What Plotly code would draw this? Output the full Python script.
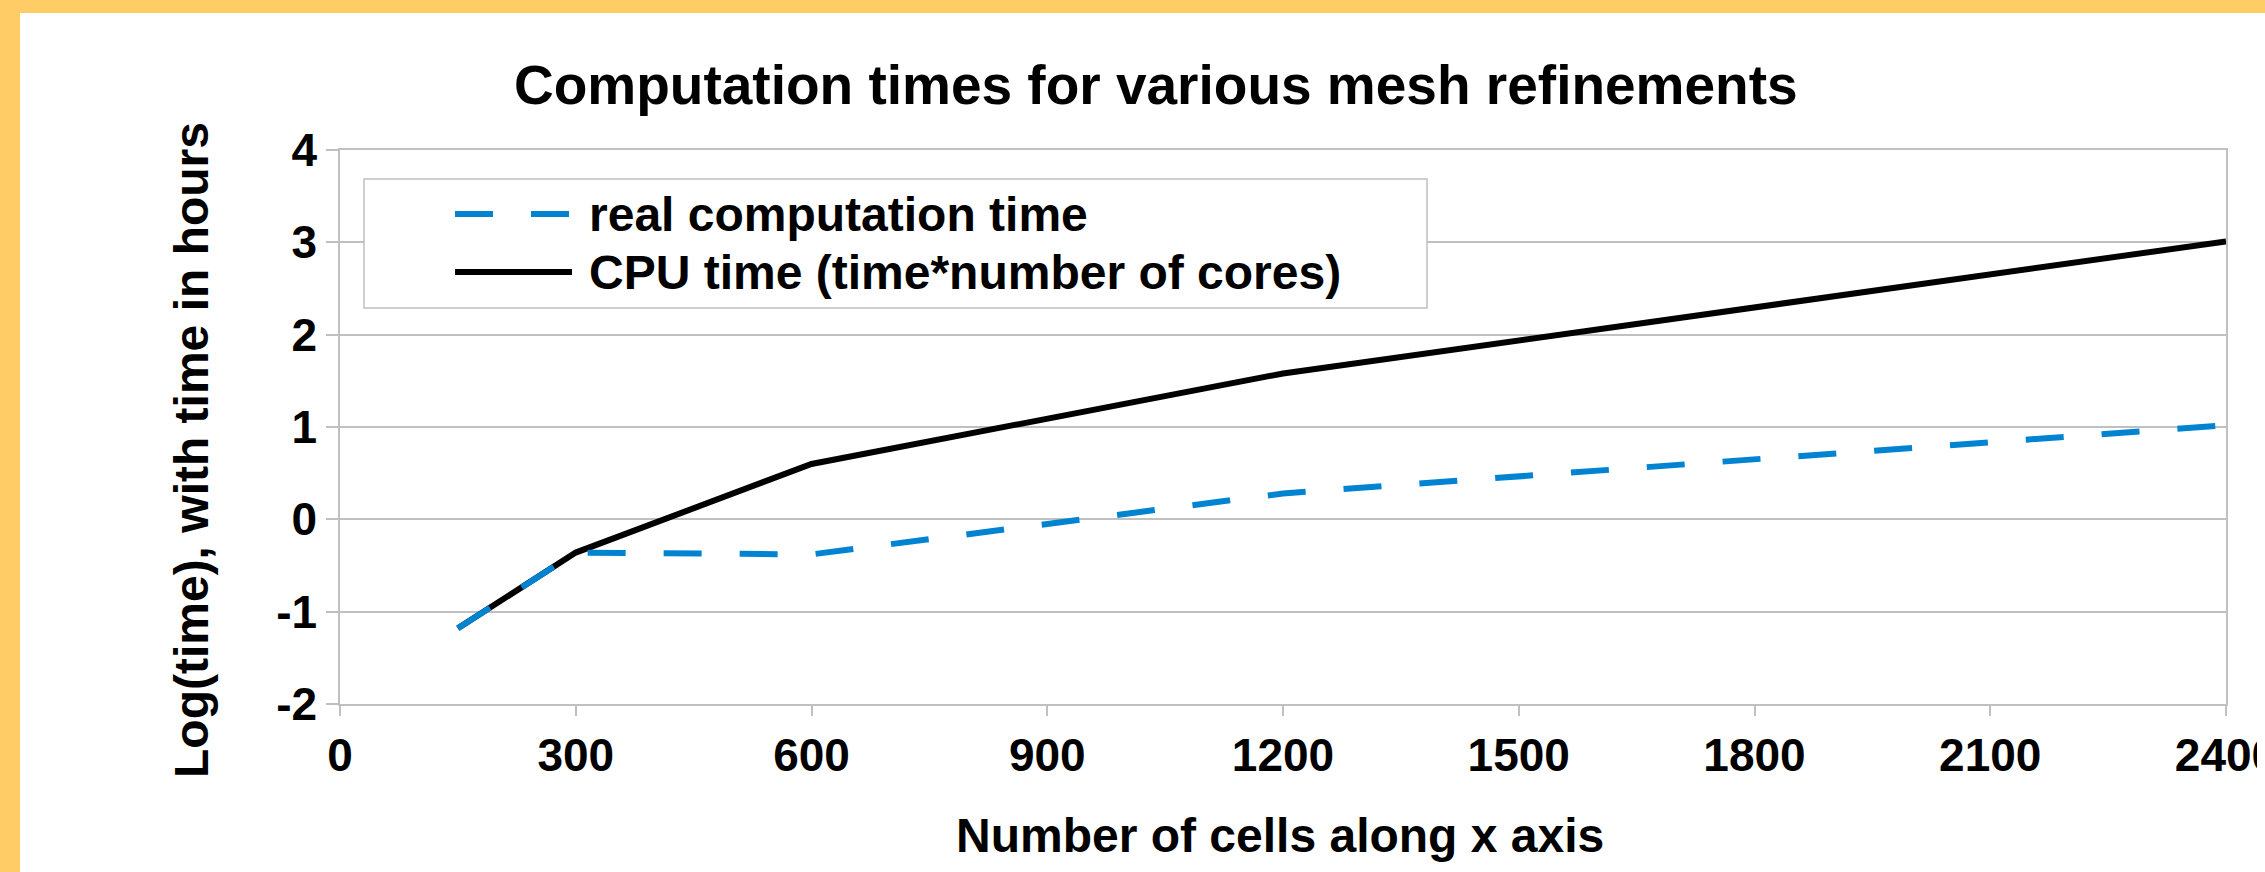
import plotly.graph_objects as go

# ---- data ----
cells = [150, 300, 600, 1200, 2400]
real_time_log = [-1.18, -0.36, -0.38, 0.28, 1.02]
cpu_time_log = [-1.18, -0.36, 0.60, 1.58, 3.01]
series_names = ["real computation time", "CPU time (time*number of cores)"]
x_ticks = [0, 300, 600, 900, 1200, 1500, 1800, 2100, 2400]
y_ticks = [-2, -1, 0, 1, 2, 3, 4]
y_tick_labels = ["-2", "-1", "0", "1", "2", "3", "4"]

SW, SH = 2265, 872          # browser window
OFF = 8                     # default page margin of the html body
W, H = SW - 2 * OFF, SH - 2 * OFF   # figure fits the window without scrollbars
# plot area in window pixels: x 340..2226, y 150..704
ML, MR, MT, MB = 340 - OFF, SW - 2226 - OFF, 150 - OFF, SH - 704 - OFF
PW, PH = W - ML - MR, H - MT - MB

def px(x):  # window pixel -> paper fraction
    return (x - OFF - ML) / PW

def py(y):
    return (H - MB - (y - OFF)) / PH

BLUE = "#0084D1"
BLACK = "#000000"
GRID = "#c0c0c0"
ORANGE = "#FFCC66"
FONT = "Liberation Sans"

def bold(size):
    return dict(family=FONT, size=size, color="black", weight="bold")

fig = go.Figure()
fig.add_trace(go.Scatter(x=cells, y=cpu_time_log, mode="lines", name=series_names[1],
                         line=dict(color=BLACK, width=6), showlegend=False))
fig.add_trace(go.Scatter(x=cells, y=real_time_log, mode="lines", name=series_names[0],
                         line=dict(color=BLUE, width=6, dash="38px,38px"), showlegend=False))

shapes = []
annotations = []
# orange frame strips (part inside the figure)
shapes.append(dict(type="rect", xref="paper", yref="paper", x0=px(0), x1=px(SW + 20), y0=py(0), y1=py(13),
                   fillcolor=ORANGE, line=dict(width=0), layer="below"))
shapes.append(dict(type="rect", xref="paper", yref="paper", x0=px(0), x1=px(20), y0=py(0), y1=py(SH + 20),
                   fillcolor=ORANGE, line=dict(width=0), layer="below"))
# legend box
shapes.append(dict(type="rect", xref="paper", yref="paper", x0=px(364), x1=px(1427), y0=py(179), y1=py(308),
                   fillcolor="white", line=dict(color=GRID, width=1.5)))
rows = [(214, BLUE, "38px,38px", 6), (272, BLACK, "solid", 6)]
for (ry, col, dash, w), name in zip(rows, series_names):
    shapes.append(dict(type="line", xref="paper", yref="paper", x0=px(455), x1=px(572), y0=py(ry), y1=py(ry),
                       line=dict(color=col, width=w, dash=dash)))
    annotations.append(dict(xref="paper", yref="paper", x=px(587), y=py(ry), text=name, showarrow=False,
                            xanchor="left", yanchor="middle", font=bold(48)))
# axis titles
annotations.append(dict(xref="paper", yref="paper", x=px(1280), y=py(835), text="Number of cells along x axis",
                        showarrow=False, xanchor="center", yanchor="middle", font=bold(48)))
annotations.append(dict(xref="paper", yref="paper", x=px(192), y=py(450), text="Log(time), with time in hours",
                        showarrow=False, xanchor="center", yanchor="middle", textangle=-90, font=bold(48)))
# title
annotations.append(dict(xref="paper", yref="paper", x=px(1156), y=py(85),
                        text="Computation times for various mesh refinements",
                        showarrow=False, xanchor="center", yanchor="middle", font=bold(55)))

fig.update_layout(
    width=W, height=H,
    margin=dict(l=ML, r=MR, t=MT, b=MB, autoexpand=False),
    paper_bgcolor="white", plot_bgcolor="white",
    shapes=shapes, annotations=annotations,
    showlegend=False,
)
fig.update_xaxes(range=[0, 2400], tickvals=x_ticks, showgrid=False, showline=True, linecolor=GRID,
                 linewidth=1.5, mirror=True, ticks="outside", ticklen=10, tickcolor=GRID, tickwidth=1.5,
                 zeroline=False, tickfont=bold(46), ticklabeloverflow="allow", automargin=False)
fig.update_yaxes(range=[-2, 4], tickvals=y_ticks, ticktext=y_tick_labels, showgrid=True, gridcolor=GRID,
                 gridwidth=1.5, showline=True, linecolor=GRID, linewidth=1.5, mirror=True,
                 ticks="outside", ticklen=12, tickcolor=GRID, tickwidth=1.5, zeroline=False,
                 tickfont=bold(46), automargin=False)

page_bg = ("document.body.style.background = 'linear-gradient(to right, " + ORANGE + " 0 20px, transparent 20px), "
           "linear-gradient(to bottom, " + ORANGE + " 0 13px, white 13px)';")
fig.write_html("out.html", config={"displayModeBar": False}, post_script=page_bg)
